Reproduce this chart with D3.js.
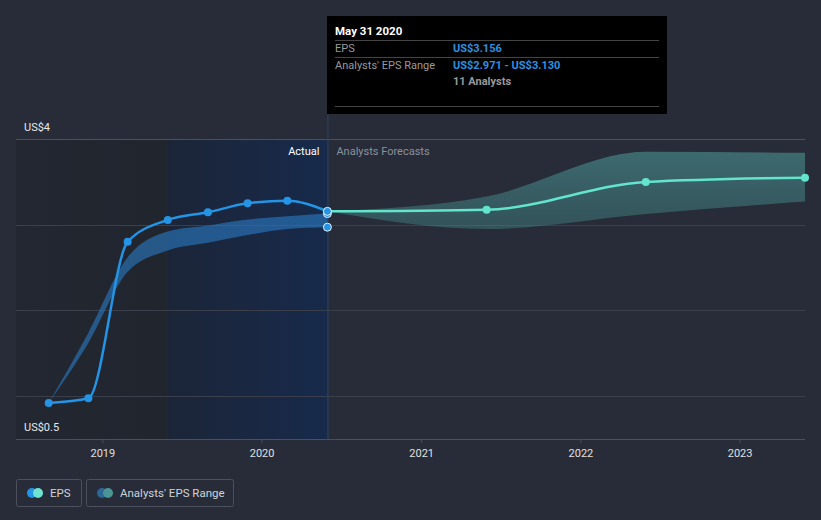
<!DOCTYPE html>
<html><head><meta charset="utf-8">
<script src="https://cdn.jsdelivr.net/npm/d3@7/dist/d3.min.js"></script>
<style>
html,body{margin:0;padding:0;background:#272c38;}
svg{display:block;font-family:Roboto,"Noto Sans",sans-serif;}
</style></head>
<body>
<svg id="chart" width="821" height="520"></svg>
<script>
// ---- data ----
const epsDates = ["2018-08-31","2018-11-30","2019-02-28","2019-05-31","2019-08-31","2019-11-30","2020-02-29","2020-05-31"];
const epsValues = [0.92, 0.975, 2.80, 3.055, 3.145, 3.25, 3.28, 3.156];
const pastRangeLow  = [0.92, 1.62, 2.45, 2.70, 2.79, 2.88, 2.95, 2.971];
const pastRangeHigh = [0.92, 1.74, 2.62, 2.92, 2.99, 3.06, 3.10, 3.130];
const forecastDates = ["2020-05-31","2021-05-31","2022-05-31","2023-05-31"];
const forecastValues = [3.156, 3.175, 3.498, 3.549];
const forecastLow  = [3.156, 2.95, 3.125, 3.27];
const forecastHigh = [3.156, 3.33, 3.85, 3.84];
const yTicks = [1, 2, 3, 4];
const yLabels = ["US$4", "US$0.5"];
const xTickYears = [2019, 2020, 2021, 2022, 2023];
const tooltipTitle = "May 31 2020";
const tooltipRows = [["EPS","US$3.156"],["Analysts' EPS Range","US$2.971 - US$3.130"]];
const tooltipNote = "11 Analysts";
const legendItems = ["EPS", "Analysts' EPS Range"];

// ---- setup ----
const parse = d3.utcParse("%Y-%m-%d");
const svg = d3.select("#chart");
const pLeft = 16, pRight = 805, pTop = 139, pBottom = 439;
const x = d3.scaleUtc().domain([parse("2018-06-17"), parse("2023-05-31")]).range([pLeft, pRight]);
const y = d3.scaleLinear().domain([0.5, 4]).range([pBottom, pTop]);

const past = epsDates.map((d,i)=>({date:parse(d), v:epsValues[i], lo:pastRangeLow[i], hi:pastRangeHigh[i]}));
const fut = forecastDates.map((d,i)=>({date:parse(d), v:forecastValues[i], lo:forecastLow[i], hi:forecastHigh[i]}));

const defs = svg.append("defs");
const g1 = defs.append("linearGradient").attr("id","actualGrad").attr("x1","0").attr("x2","1");
g1.append("stop").attr("offset","0").attr("stop-color","#1c2538");
g1.append("stop").attr("offset","1").attr("stop-color","#172a4b");
const g0 = defs.append("linearGradient").attr("id","pastGrad").attr("x1","0").attr("x2","1");
g0.append("stop").attr("offset","0").attr("stop-color","#232731");
g0.append("stop").attr("offset","1").attr("stop-color","#21252e");
const g2 = defs.append("linearGradient").attr("id","fcGrad").attr("x1","0").attr("x2","0").attr("y1","0").attr("y2","1");
g2.append("stop").attr("offset","0").attr("stop-color","#52a8a6").attr("stop-opacity",0.5);
g2.append("stop").attr("offset","1").attr("stop-color","#4a9a98").attr("stop-opacity",0.35);

const actualStart = parse("2019-05-31"), now = parse("2020-05-31");
svg.append("rect").attr("x", pLeft).attr("y", pTop).attr("width", x(actualStart)-pLeft).attr("height", pBottom-pTop).attr("fill","url(#pastGrad)");
svg.append("rect").attr("x", x(actualStart)).attr("y", pTop).attr("width", x(now)-x(actualStart)).attr("height", pBottom-pTop).attr("fill","url(#actualGrad)");

// gridlines
svg.append("g").selectAll("line").data(yTicks).join("line")
  .attr("x1", pLeft).attr("x2", pRight).attr("y1", d=>Math.round(y(d))+0.5).attr("y2", d=>Math.round(y(d))+0.5)
  .attr("stroke", d=> d===4 ? "#4b505c" : "#3a3f4b").attr("stroke-width",1);

// x axis
const xAxis = d3.axisBottom(x)
  .tickValues(xTickYears.map(yr=>new Date(Date.UTC(yr,0,1))))
  .tickFormat(d3.utcFormat("%Y")).tickSize(4).tickPadding(6);
const ax = svg.append("g").attr("transform",`translate(0,${pBottom})`).call(xAxis);
ax.select(".domain").attr("stroke","#4b505c").attr("d", `M${pLeft},0.5H${pRight}`);
ax.selectAll(".tick line").attr("stroke","#4b505c");
ax.selectAll(".tick text").attr("fill","#e0e0e0").attr("font-size",11).attr("font-family","Roboto");

// y labels
svg.append("text").attr("x",24).attr("y",y(4)-8).attr("fill","#e8e8e8").attr("font-size",11).text(yLabels[0]);
svg.append("text").attr("x",24).attr("y",y(0.5)-8).attr("fill","#e8e8e8").attr("font-size",11).text(yLabels[1]);

// vertical now line
svg.append("line").attr("x1",x(now)+0.5).attr("x2",x(now)+0.5).attr("y1",114).attr("y2",pBottom).attr("stroke","#2c4262").attr("stroke-width",1);

// Actual / Forecast labels
svg.append("text").attr("x",x(now)-8).attr("y",155).attr("text-anchor","end").attr("fill","#ffffff").attr("font-size",11).text("Actual");
svg.append("text").attr("x",x(now)+9).attr("y",155).attr("fill","#8c919b").attr("font-size",11).text("Analysts Forecasts");

const curve = d3.curveMonotoneX;
// past range band
svg.append("path").datum(past)
  .attr("d", d3.area().x(d=>x(d.date)).y0(d=>y(d.lo)).y1(d=>y(d.hi)).curve(curve))
  .attr("fill","#2a7cc4").attr("fill-opacity",0.6);
// forecast band
svg.append("path").datum(fut)
  .attr("d", d3.area().x(d=>x(d.date)).y0(d=>y(d.lo)).y1(d=>y(d.hi)).curve(curve))
  .attr("fill","url(#fcGrad)");

// EPS line
svg.append("path").datum(past)
  .attr("d", d3.line().x(d=>x(d.date)).y(d=>y(d.v)).curve(curve))
  .attr("fill","none").attr("stroke","#2394e6").attr("stroke-width",2.5);
svg.append("path").datum(fut)
  .attr("d", d3.line().x(d=>x(d.date)).y(d=>y(d.v)).curve(curve))
  .attr("fill","none").attr("stroke","#63e4cc").attr("stroke-width",2.5);

// points
svg.append("g").selectAll("circle").data(past.slice(0,-1)).join("circle")
  .attr("cx",d=>x(d.date)).attr("cy",d=>y(d.v)).attr("r",4).attr("fill","#2394e6");
svg.append("g").selectAll("circle").data(fut.slice(1)).join("circle")
  .attr("cx",d=>x(d.date)).attr("cy",d=>y(d.v)).attr("r",4).attr("fill","#63e4cc");
const last = past[past.length-1];
[last.lo, last.hi, last.v].forEach(v=>{
  svg.append("circle").attr("cx",x(last.date)).attr("cy",y(v)).attr("r",4)
    .attr("fill","#2394e6").attr("stroke","#e6eef8").attr("stroke-width",1);
});

// tooltip
const tt = svg.append("g");
tt.append("rect").attr("x",327).attr("y",16).attr("width",340).attr("height",98).attr("fill","#000000");
tt.append("text").attr("x",335).attr("y",35).attr("fill","#ffffff").attr("font-size",11.5).attr("font-weight","bold").text(tooltipTitle);
[40.5, 57.5, 106.5].forEach(yy=>tt.append("line").attr("x1",335).attr("x2",659).attr("y1",yy).attr("y2",yy).attr("stroke","#444"));
tooltipRows.forEach((r,i)=>{
  const yy = 52 + i*17;
  tt.append("text").attr("x",335).attr("y",yy).attr("fill","#9a9a9a").attr("font-size",11).text(r[0]);
  tt.append("text").attr("x",453).attr("y",yy).attr("fill","#2a92e0").attr("font-size",11).attr("font-weight","bold").text(r[1]);
});
tt.append("text").attr("x",453).attr("y",85).attr("fill","#9a9a9a").attr("font-size",11).attr("font-weight","bold").text(tooltipNote);

// legend
const lg = svg.append("g");
lg.append("rect").attr("x",16.5).attr("y",479.5).attr("width",65).attr("height",27).attr("rx",2).attr("fill","none").attr("stroke","#4b505c");
lg.append("circle").attr("cx",32).attr("cy",493).attr("r",5).attr("fill","#2394e6");
lg.append("circle").attr("cx",38).attr("cy",493).attr("r",5).attr("fill","#6de3d2");
lg.append("text").attr("x",50).attr("y",497).attr("fill","#d0d3d8").attr("font-size",11.5).text(legendItems[0]);
lg.append("rect").attr("x",86.5).attr("y",479.5).attr("width",147).attr("height",27).attr("rx",2).attr("fill","none").attr("stroke","#4b505c");
lg.append("circle").attr("cx",102).attr("cy",493).attr("r",5).attr("fill","#2a6797");
lg.append("circle").attr("cx",108).attr("cy",493).attr("r",5).attr("fill","#4a9593");
lg.append("text").attr("x",120).attr("y",497).attr("fill","#d0d3d8").attr("font-size",11.5).text(legendItems[1]);
</script>
</body></html>
